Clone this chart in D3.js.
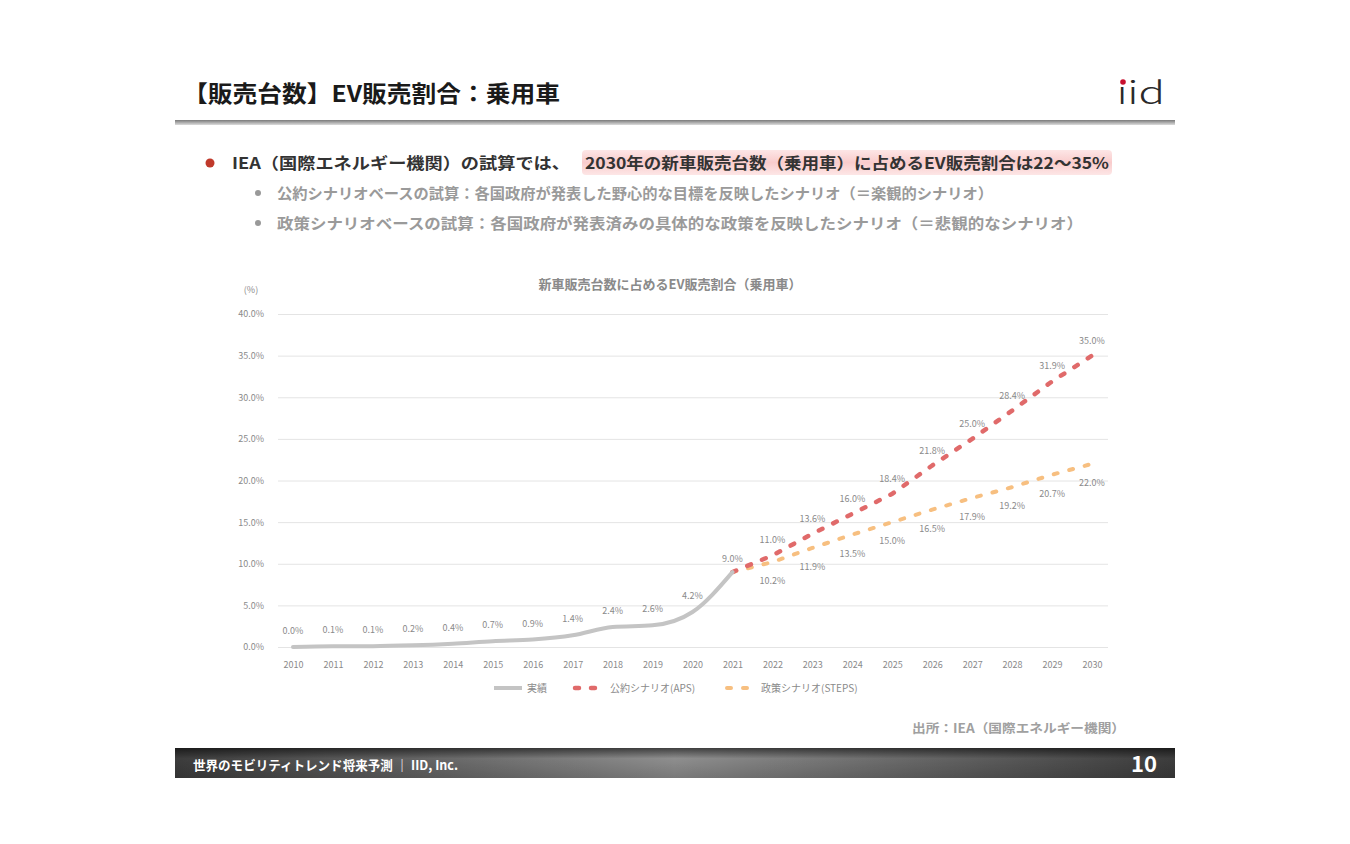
<!DOCTYPE html>
<html><head><meta charset="utf-8">
<script src="https://cdn.jsdelivr.net/npm/d3@7"></script>
<style>body{margin:0;background:#fff}svg{display:block}text{font-family:"Noto Sans CJK JP","Noto Sans",sans-serif}</style>
</head><body><svg id="c" width="1350" height="844"></svg>
<script>
// ---- data ----
const years = ["2010","2011","2012","2013","2014","2015","2016","2017","2018","2019","2020","2021","2022","2023","2024","2025","2026","2027","2028","2029","2030"];
const actualYears = years.slice(0,12);
const actualValues = [0.0,0.1,0.1,0.2,0.4,0.7,0.9,1.4,2.4,2.6,4.2,9.0];
const scenarioYears = years.slice(11);
const apsValues = [9.0,11.0,13.6,16.0,18.4,21.8,25.0,28.4,31.9,35.0];
const stepsValues = [9.0,10.2,11.9,13.5,15.0,16.5,17.9,19.2,20.7,22.0];
const yTicks = [0,5,10,15,20,25,30,35,40];
const legendLabels = ["実績","公約シナリオ(APS)","政策シナリオ(STEPS)"];
const titleText = "【販売台数】EV販売割合：乗用車";
const chartTitle = "新車販売台数に占めるEV販売割合（乗用車）";
const bulletMainA = "IEA（国際エネルギー機関）の試算では、";
const bulletMainB = "2030年の新車販売台数（乗用車）に占めるEV販売割合は22～35%";
const bulletSub = ["公約シナリオベースの試算：各国政府が発表した野心的な目標を反映したシナリオ（＝楽観的シナリオ）",
                   "政策シナリオベースの試算：各国政府が発表済みの具体的な政策を反映したシナリオ（＝悲観的なシナリオ）"];
const sourceText = "出所：IEA（国際エネルギー機関）";
const footerText = "世界のモビリティトレンド将来予測 ｜ IID, Inc.";
const pageNo = "10";

const svg = d3.select("#c");
const defs = svg.append("defs");

// ---- header ----
svg.append("text").attr("x",183).attr("y",102).attr("font-size",23).attr("font-weight",700)
  .attr("fill","#1a1a1a").attr("textLength",377).attr("lengthAdjust","spacingAndGlyphs").text(titleText);
svg.append("text").attr("x",1117).attr("y",104).attr("font-size",31).attr("font-family","Lato, 'DejaVu Sans'")
  .attr("font-weight",300).attr("fill","#2a2a2a").attr("textLength",48).attr("lengthAdjust","spacingAndGlyphs").text("\u0131id");
svg.append("circle").attr("cx",1123).attr("cy",82).attr("r",2.8).attr("fill","#c8102e");
const hg = defs.append("linearGradient").attr("id","hl").attr("x1",0).attr("y1",0).attr("x2",0).attr("y2",1);
hg.append("stop").attr("offset","0%").attr("stop-color","#7a7a7a");
hg.append("stop").attr("offset","100%").attr("stop-color","#dcdcdc");
svg.append("rect").attr("x",175).attr("y",120).attr("width",1000).attr("height",5).attr("fill","url(#hl)");

// ---- bullets ----
const pg = defs.append("linearGradient").attr("id","pk").attr("x1",0).attr("y1",0).attr("x2",0).attr("y2",1);
pg.append("stop").attr("offset","0%").attr("stop-color","#fde6e6");
pg.append("stop").attr("offset","50%").attr("stop-color","#f9cccc");
pg.append("stop").attr("offset","100%").attr("stop-color","#fde6e6");
svg.append("rect").attr("x",582).attr("y",150).attr("width",530).attr("height",25).attr("rx",4).attr("fill","url(#pk)");
svg.append("circle").attr("cx",210).attr("cy",163).attr("r",4.5).attr("fill","#c0392b");
svg.append("text").attr("x",232).attr("y",169).attr("font-size",16).attr("font-weight",700).attr("fill","#333")
  .attr("textLength",338).attr("lengthAdjust","spacingAndGlyphs").text(bulletMainA);
svg.append("text").attr("x",585).attr("y",169).attr("font-size",16).attr("font-weight",700).attr("fill","#333")
  .attr("textLength",524).attr("lengthAdjust","spacingAndGlyphs").text(bulletMainB);
const subW = [716, 806];
bulletSub.forEach((t,i)=>{
  const yy = 193 + i*30;
  svg.append("circle").attr("cx",258).attr("cy",yy).attr("r",3).attr("fill","#999");
  svg.append("text").attr("x",277).attr("y",yy+5.5).attr("font-size",15).attr("font-weight",700).attr("fill","#9a9a9a")
    .attr("textLength",subW[i]).attr("lengthAdjust","spacingAndGlyphs").text(t);
});

// ---- chart ----
const x = d3.scalePoint().domain(years).range([293,1092]);
const y = d3.scaleLinear().domain([0,40]).range([647,314]);
const fmt = v => v.toFixed(1) + "%";

svg.append("text").attr("x",670).attr("y",289).attr("text-anchor","middle").attr("font-size",13)
  .attr("font-weight",700).attr("fill","#8a8a8a").text(chartTitle);
svg.append("text").attr("x",251).attr("y",293).attr("text-anchor","middle").attr("font-size",9).attr("fill","#8a8a8a").text("(%)");

const yAxis = d3.axisLeft(y).tickValues(yTicks).tickSize(-(1108-278)).tickFormat(fmt).tickPadding(14);
const ga = svg.append("g").attr("transform","translate(278,0)").call(yAxis);
ga.select(".domain").remove();
ga.selectAll(".tick line").attr("stroke","#e4e4e4").attr("stroke-width",1);
ga.selectAll(".tick text").attr("fill","#8a8a8a").attr("font-size",9).attr("font-family","'Noto Sans CJK JP'");

const xAxis = d3.axisBottom(x).tickSize(0).tickPadding(10);
const gx = svg.append("g").attr("transform","translate(0,652)").call(xAxis);
gx.select(".domain").remove();
gx.selectAll(".tick text").attr("fill","#8a8a8a").attr("font-size",9).attr("font-family","'Noto Sans CJK JP'");

const line = d3.line().x(d=>x(d[0])).y(d=>y(d[1])).curve(d3.curveMonotoneX);
const lineLin = d3.line().x(d=>x(d[0])).y(d=>y(d[1]));
const act = actualYears.map((yr,i)=>[yr,actualValues[i]]);
const aps = scenarioYears.map((yr,i)=>[yr,apsValues[i]]);
const stp = scenarioYears.map((yr,i)=>[yr,stepsValues[i]]);

svg.append("path").datum(stp).attr("d",lineLin).attr("fill","none").attr("stroke","#f7bf80")
  .attr("stroke-width",4).attr("stroke-dasharray","4 12").attr("stroke-linecap","round");
svg.append("path").datum(aps).attr("d",lineLin).attr("fill","none").attr("stroke","#e06a6a")
  .attr("stroke-width",4.5).attr("stroke-dasharray","4 12").attr("stroke-linecap","round");
svg.append("path").datum(act).attr("d",line).attr("fill","none").attr("stroke","#c4c4c4")
  .attr("stroke-width",4).attr("stroke-linecap","round");

const lab = (data, dy) => svg.append("g").selectAll("text").data(data).join("text")
  .attr("x",d=>x(d[0])).attr("y",d=>y(d[1])+dy).attr("text-anchor","middle").attr("font-size",9)
  .attr("fill","#8a8a8a").text(d=>fmt(d[1]));
lab(act.slice(0,11), -13);
lab(act.slice(11), -10);
lab(aps.slice(1), -12);
lab(stp.slice(1), 22);

// legend
const lg = svg.append("g");
lg.append("line").attr("x1",494).attr("x2",522).attr("y1",688).attr("y2",688).attr("stroke","#c4c4c4").attr("stroke-width",4);
lg.append("text").attr("x",527).attr("y",692).attr("font-size",10).attr("fill","#8a8a8a").text(legendLabels[0]);
lg.append("line").attr("x1",575).attr("x2",602).attr("y1",688).attr("y2",688).attr("stroke","#e06a6a").attr("stroke-width",4.5)
  .attr("stroke-dasharray","4 12").attr("stroke-linecap","round");
lg.append("text").attr("x",610).attr("y",692).attr("font-size",10).attr("fill","#8a8a8a").text(legendLabels[1]);
lg.append("line").attr("x1",727).attr("x2",754).attr("y1",688).attr("y2",688).attr("stroke","#f7bf80").attr("stroke-width",4)
  .attr("stroke-dasharray","4 12").attr("stroke-linecap","round");
lg.append("text").attr("x",761).attr("y",692).attr("font-size",10).attr("fill","#8a8a8a").text(legendLabels[2]);

// source
svg.append("text").attr("x",912).attr("y",733).attr("font-size",12.5).attr("font-weight",700)
  .attr("fill","#a0a0a0").attr("textLength",213).attr("lengthAdjust","spacingAndGlyphs").text(sourceText);

// ---- footer ----
const fg = defs.append("linearGradient").attr("id","ft").attr("x1",0).attr("y1",0).attr("x2",1).attr("y2",0);
fg.append("stop").attr("offset","0%").attr("stop-color","#3c3c3c");
fg.append("stop").attr("offset","50%").attr("stop-color","#8e8e8e");
fg.append("stop").attr("offset","100%").attr("stop-color","#3c3c3c");
const fv = defs.append("linearGradient").attr("id","fv").attr("x1",0).attr("y1",0).attr("x2",0).attr("y2",1);
fv.append("stop").attr("offset","0%").attr("stop-color","#000").attr("stop-opacity",0.55);
fv.append("stop").attr("offset","35%").attr("stop-color","#000").attr("stop-opacity",0);
fv.append("stop").attr("offset","100%").attr("stop-color","#000").attr("stop-opacity",0.15);
svg.append("rect").attr("x",175).attr("y",748).attr("width",1000).attr("height",30).attr("fill","url(#ft)");
svg.append("rect").attr("x",175).attr("y",748).attr("width",1000).attr("height",30).attr("fill","url(#fv)");
svg.append("text").attr("x",193).attr("y",770).attr("font-size",13).attr("font-weight",700).attr("fill","#fff")
  .attr("textLength",265).attr("lengthAdjust","spacingAndGlyphs").text(footerText);
svg.append("text").attr("x",1157).attr("y",772).attr("text-anchor","end").attr("font-size",22).attr("font-weight",700)
  .attr("fill","#fff").text(pageNo);
</script></body></html>
